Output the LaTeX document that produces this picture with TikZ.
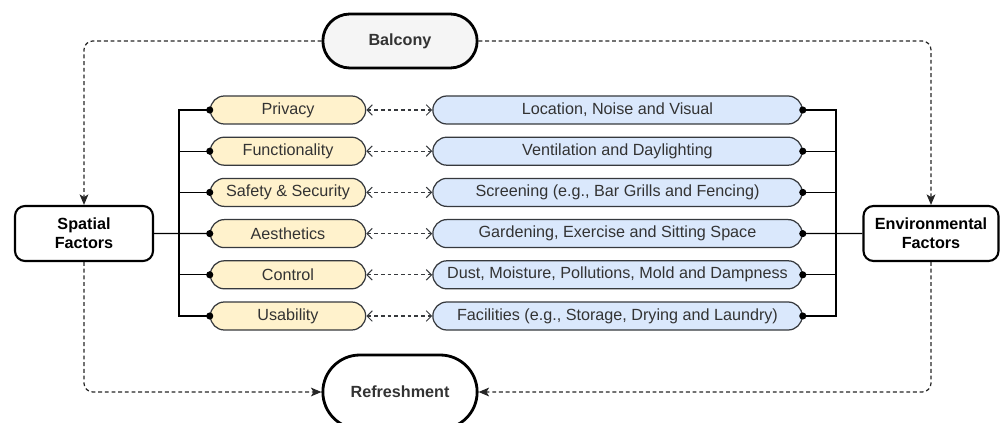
\documentclass[tikz,border=0pt]{standalone}
\usepackage{fontspec}
\setmainfont{Liberation Sans}
\usetikzlibrary{arrows.meta}
\usetikzlibrary{positioning}
\usetikzlibrary{shapes.misc}
\definecolor{boxline}{HTML}{36393D}
\definecolor{yellowfill}{HTML}{FFF2CC}
\definecolor{bluefill}{HTML}{DAE8FC}
\definecolor{grayfill}{HTML}{F5F5F5}
\definecolor{textgray}{HTML}{333333}
\tikzset{pill/.style = {draw=black, line width=1.6pt, rounded rectangle,
                        minimum width=3.32cm, text=textgray,
                        font=\fontsize{9.2}{11}\selectfont\bfseries},
         factor/.style = {draw=black, line width=1.2pt, rounded corners=0.2cm,
                          minimum height=1.1cm, align=center,
                          font=\fontsize{9.2}{11}\selectfont\bfseries},
         item/.style = {draw=boxline, line width=0.7pt, rounded rectangle,
                        minimum height=0.56cm, inner ysep=0pt, text=textgray,
                        font=\fontsize{9.2}{11}\selectfont},
         bus/.style = {draw=black, line width=0.7pt},
         dotted tip/.style = {-{Circle[length=4pt]}, shorten >=-2pt},
         dotted tips/.style = {{Circle[length=4pt]}-{Circle[length=4pt]},
                               shorten <=-2pt, shorten >=-2pt},
         pair/.style = {draw=boxline, line width=0.6pt, dash pattern=on 2.2pt off 1.6pt,
                        {Straight Barb[length=3pt,width=6pt]}-{Straight Barb[length=3pt,width=6pt]}},
         flow/.style = {draw=black!85, line width=0.7pt, dash pattern=on 2.2pt off 1.6pt,
                        rounded corners=5pt, -{Stealth[length=6pt,width=5pt,inset=1.5pt]}}}
\begin{document}
\begin{tikzpicture}
    \useasboundingbox (0, 0) rectangle (20, -8.46);
    \node [pill, fill=grayfill, minimum height=1.08cm] (balcony) at (8, -0.82) {Balcony};
    \node [pill, fill=white, minimum height=1.48cm] (refresh) at (8, -7.84) {Refreshment};
    \node [factor, minimum width=2.76cm] (spatial) at (1.68, -4.67) {Spatial\\Factors};
    \node [factor, minimum width=2.70cm] (environ) at (18.62, -4.67) {Environmental\\Factors};
    \foreach \left/\right [count=\i] in {Privacy/{Location, Noise and Visual},
                                         Functionality/{Ventilation and Daylighting},
                                         Safety \& Security/{Screening (e.g., Bar Grills and Fencing)},
                                         Aesthetics/{Gardening, Exercise and Sitting Space},
                                         Control/{Dust, Moisture, Pollutions, Mold and Dampness},
                                         Usability/{Facilities (e.g., Storage, Drying and Laundry)}} {
      \pgfmathsetmacro{\rowy}{-2.2 - 0.824 * (\i - 1)}
      \node [item, fill=yellowfill, minimum width=3.34cm] (y\i) at (5.76, \rowy) {\left};
      \node [item, fill=bluefill, minimum width=7.62cm] (b\i) at (12.35, \rowy) {\right};
    }
    \coordinate (lbus) at (3.58, 0);
    \coordinate (rbus) at (16.72, 0);
    \draw [bus, dotted tips] (y1.west) -| (lbus |- y6.west) -- (y6.west);
    \draw [bus, dotted tips] (b1.east) -| (rbus |- b6.east) -- (b6.east);
    \draw [bus, dotted tip] (spatial.east) -- (y4.west);
    \draw [bus, dotted tip] (environ.west) -- (b4.east);
    \foreach \i in {2, 3, 5} {
      \draw [bus, dotted tip] (lbus |- y\i.west) -- (y\i.west);
      \draw [bus, dotted tip] (rbus |- b\i.east) -- (b\i.east);
    }
    \foreach \i in {1, ..., 6}
      \draw [pair] (y\i.east) -- (b\i.west);
    \draw [flow] (balcony.west) -| (spatial.north);
    \draw [flow] (balcony.east) -| (environ.north);
    \draw [flow] (spatial.south) |- (refresh.west);
    \draw [flow] (environ.south) |- (refresh.east);
\end{tikzpicture}
\end{document}
